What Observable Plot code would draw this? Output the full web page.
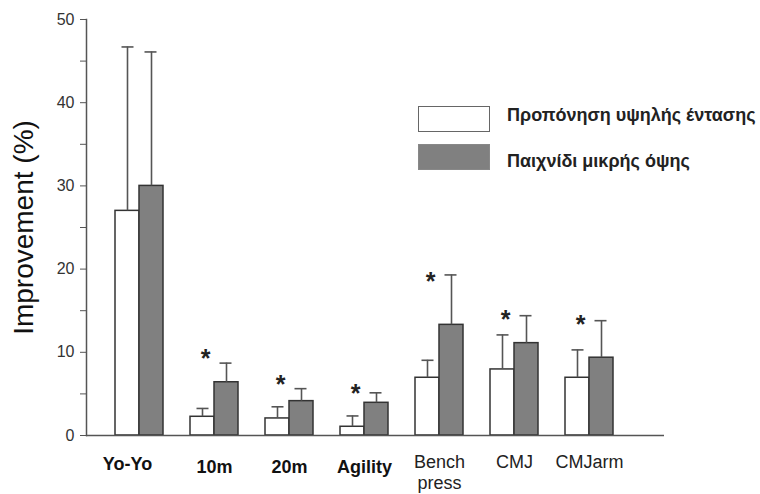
<!DOCTYPE html>
<html><head><meta charset="utf-8">
<script src="https://cdn.jsdelivr.net/npm/d3@7"></script>
<script src="https://cdn.jsdelivr.net/npm/@observablehq/plot@0.6"></script>
<style>
body{margin:0;background:#fff;font-family:"Liberation Sans",Arial,sans-serif;}
#wrap{position:relative;width:760px;height:494px;}
.lg-box{position:absolute;left:418px;width:72px;height:26px;box-sizing:border-box;}
.lg-text{position:absolute;left:507px;font-size:18px;font-weight:bold;color:#222;line-height:22px;white-space:nowrap;}
</style></head>
<body><div id="wrap"></div>
<script>
const categories = ["Yo-Yo","10m","20m","Agility","Bench press","CMJ","CMJarm"];
const seriesNames = ["Προπόνηση υψηλής έντασης","Παιχνίδι μικρής όψης"];
const highMean = [27.0, 2.25, 2.05, 1.05, 6.94, 7.94, 6.94];
const highSD   = [19.7, 1.0, 1.4, 1.3, 2.1, 4.15, 3.35];
const sspMean  = [30.0, 6.4, 4.13, 3.93, 13.3, 11.1, 9.35];
const sspSD    = [16.1, 2.3, 1.5, 1.2, 6.0, 3.3, 4.45];
const starCats = ["10m","20m","Agility","Bench press","CMJ","CMJarm"];
const starY    = [9.5, 6.4, 5.4, 18.8, 14.3, 13.7];
const yTicks = [0,10,20,30,40,50];
const yMinor = [5,15,25,35,45];
const boldLabels = new Set(["10m","20m","Agility"]);

const high = categories.map((c,i)=>({cat:c, mean:highMean[i], top:highMean[i]+highSD[i]}));
const ssp  = categories.map((c,i)=>({cat:c, mean:sspMean[i], top:sspMean[i]+sspSD[i]}));
const stars = starCats.map((c,i)=>({cat:c, y:starY[i]}));

const ink = "#333", line = "#555", gray = "#808080";
const font = "Liberation Sans, Arial, sans-serif";

const chart = Plot.plot({
  width: 760, height: 494,
  marginLeft: 86, marginRight: 96, marginTop: 19, marginBottom: 59,
  style: {fontFamily: font, background: "white", color: ink},
  x: {domain: categories, range: [100.5, 626.5], paddingInner: 0.36, paddingOuter: 0.18, axis: null},
  y: {domain: [0, 50], axis: null},
  marks: [
    Plot.barY(high, {x: "cat", y: "mean", insetRight: 24, fill: "white", stroke: ink, strokeWidth: 1.5}),
    Plot.barY(ssp, {x: "cat", y: "mean", insetLeft: 24, fill: gray, stroke: ink, strokeWidth: 1.5}),
    Plot.ruleX(high, {x: "cat", y1: "mean", y2: "top", dx: -12, stroke: line, strokeWidth: 1.6}),
    Plot.ruleX(ssp, {x: "cat", y1: "mean", y2: "top", dx: 12, stroke: line, strokeWidth: 1.6}),
    Plot.tickY(high, {x: "cat", y: "top", insetLeft: 6.5, insetRight: 29.5, stroke: line, strokeWidth: 1.6}),
    Plot.tickY(ssp, {x: "cat", y: "top", insetLeft: 29.5, insetRight: 6.5, stroke: line, strokeWidth: 1.6}),
    Plot.text(stars, {x: "cat", y: "y", text: () => "*", dx: -9, dy: 3, fontSize: 25, fontWeight: "bold", fill: "#222"}),
    Plot.axisY({ticks: yTicks, tickSize: 6, tickPadding: 6, fontSize: 16, label: null, stroke: line, fill: "#333"}),
    Plot.axisY({ticks: yMinor, tickSize: 6, tickFormat: () => "", label: null, stroke: line}),
    Plot.frame({anchor: "left", stroke: line, strokeWidth: 1.5}),
    Plot.ruleY([0], {stroke: line, strokeWidth: 1.5}),
    Plot.text(["Yo-Yo"], {x: d => d, frameAnchor: "bottom", lineAnchor: "middle", dx: -12, dy: 29, fontSize: 18, fontWeight: "bold", fill: "#111"}),
    Plot.text(categories.filter(c => boldLabels.has(c)), {x: d => d, frameAnchor: "bottom", lineAnchor: "middle", dy: 32, fontSize: 18, fontWeight: "bold", fill: "#111"}),
    Plot.text(categories.filter(c => c !== "Yo-Yo" && !boldLabels.has(c)), {x: d => d, text: d => d.replace(" ", "\n"), frameAnchor: "bottom", lineAnchor: "top", lineHeight: 1.2, dy: 17, fontSize: 18, fill: "#222"}),
    Plot.text(["Improvement (%)"], {frameAnchor: "left", rotate: -90, textAnchor: "middle", dx: -62, fontSize: 28, fill: "#111"})
  ]
});
const wrap = document.getElementById("wrap");
wrap.appendChild(chart);
const boxStyles = ["background:#fff;border:1.5px solid #666;", "background:" + gray + ";border:1px solid #888;"];
const boxTops = [106, 144];
const textTops = [103.5, 149.5];
seriesNames.forEach((s,i)=>{
  const b = document.createElement("div"); b.className = "lg-box"; b.style.cssText = "top:"+boxTops[i]+"px;"+boxStyles[i]; wrap.appendChild(b);
  const t = document.createElement("div"); t.className = "lg-text"; t.style.top = textTops[i]+"px"; t.textContent = s; wrap.appendChild(t);
});
chart.style.position = "absolute"; chart.style.left = "0"; chart.style.top = "0";
</script></body></html>
